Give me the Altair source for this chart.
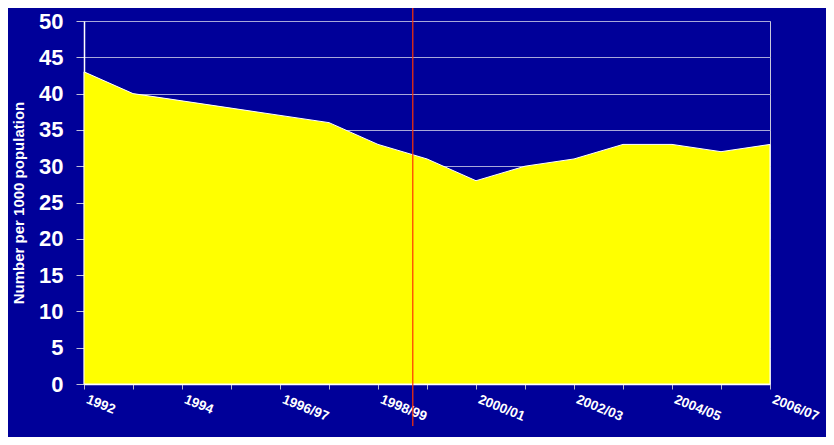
import json
import altair as alt
import pandas as pd

# ---- data ----
periods = ["1992", "1993", "1994", "1995", "1996/97", "1997/98", "1998/99",
           "1999/00", "2000/01", "2001/02", "2002/03", "2003/04", "2004/05",
           "2005/06", "2006/07"]
rate = [43, 40, 39, 38, 37, 36, 33, 31, 28, 30, 31, 33, 33, 32, 33]
shown_labels = ["1992", "1994", "1996/97", "1998/99", "2000/01", "2002/03",
                "2004/05", "2006/07"]
y_ticks = [0, 5, 10, 15, 20, 25, 30, 35, 40, 45, 50]

# marker line (between 1998/99 and 1999/00), in data units
marker_pos = [6.71]
marker_top = [52.5]
marker_bottom = [-5.8]

df = pd.DataFrame({"idx": list(range(len(periods))), "period": periods, "rate": rate})
mk = pd.DataFrame({"x": marker_pos, "y": marker_top, "y2": marker_bottom})

label_text = [p if p in shown_labels else "" for p in periods]
label_expr = json.dumps(label_text) + "[datum.value]"

x_scale = alt.Scale(domain=[0, len(periods) - 1], nice=False, zero=False)
y_scale = alt.Scale(domain=[0, 50], nice=False)

x_axis = alt.Axis(
    values=list(range(len(periods))),
    labelExpr=label_expr,
    title=None,
    grid=False,
    domainColor="white",
    domainWidth=1.5,
    tickColor="#B8B8D0",
    tickSize=5,
    labelColor="white",
    labelFont="Liberation Sans",
    labelFontSize=13.5,
    labelFontWeight="bold",
    labelAngle=22,
    labelAlign="left",
    labelBaseline="top",
    labelPadding=3,
    labelOffset=5,
    labelOverlap=False,
    labelBound=False,
    labelFlush=False,
)

y_axis = alt.Axis(
    values=y_ticks,
    title="Number per 1000 population",
    titleColor="white",
    titleFont="Liberation Sans",
    titleFontSize=15,
    titleFontWeight="bold",
    titlePadding=12,
    grid=True,
    gridColor="#A8A8DA",
    gridWidth=1,
    domainColor="white",
    domainWidth=1.5,
    tickColor="#C0C0D8",
    tickSize=8,
    labelColor="white",
    labelFont="Liberation Sans",
    labelFontSize=22,
    labelFontWeight="bold",
    labelPadding=13,
    labelOverlap=False,
)

area = alt.Chart(df).mark_area(
    color="#FFFF00", stroke="white", strokeWidth=1, opacity=1
).encode(
    x=alt.X("idx:Q", scale=x_scale, axis=x_axis),
    y=alt.Y("rate:Q", scale=y_scale, axis=y_axis),
)

marker = alt.Chart(mk).mark_rule(color="#FF3300", strokeWidth=1.2, clip=False).encode(
    x=alt.X("x:Q", scale=x_scale, axis=x_axis),
    y=alt.Y("y:Q", scale=y_scale, axis=y_axis),
    y2="y2:Q",
)

chart = (
    alt.layer(area, marker)
    .properties(
        width=686,
        height=363,
        autosize=alt.AutoSizeParams(type="none"),
        padding={"left": 76, "top": 13, "right": 56, "bottom": 53},
        background="#000099",
    )
    .configure_view(stroke="#C8C8DC", strokeWidth=1)
)

chart.save("out.html", embed_options={"renderer": "svg", "actions": False})
